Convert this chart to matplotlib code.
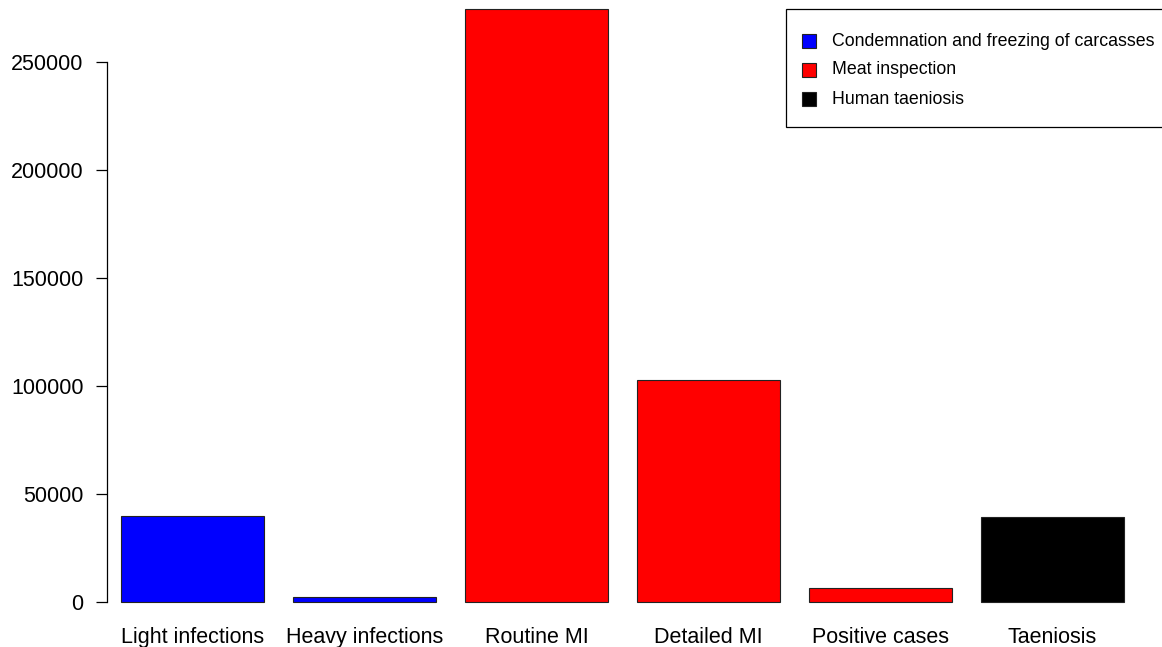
import matplotlib.pyplot as plt
from matplotlib.patches import Rectangle

plt.rcParams['font.family'] = ['Liberation Sans', 'DejaVu Sans']

categories = ["Light infections", "Heavy infections", "Routine MI",
              "Detailed MI", "Positive cases", "Taeniosis"]
values = [39800, 2200, 274500, 102800, 6350, 39500]
bar_colors = ["blue", "blue", "red", "red", "red", "black"]

legend_labels = ["Condemnation and freezing of carcasses",
                 "Meat inspection", "Human taeniosis"]
legend_colors = ["blue", "red", "black"]

W, H = 1162, 647
fig = plt.figure(figsize=(W / 100, H / 100), dpi=100)

# axes spans pixel x 107..1162, y 0..626 (R-style barplot region)
ax = fig.add_axes([107 / W, (H - 626) / H, 1 - 107 / W, 626 / H])

# R barplot positions: width 1, space 0.2
xs = [0.7 + 1.2 * i for i in range(len(values))]
ax.bar(xs, values, width=1.0, color=bar_colors, edgecolor="#222222", linewidth=0.8)

px_x = 143.3          # pixels per x unit
px_y = 250000 / 540   # value per pixel
ax.set_xlim(0.2 - 14 / px_x, 0.2 + (W - 121) / px_x)
ax.set_ylim(-24 * px_y, 602 * px_y)

for s in ["top", "right", "bottom"]:
    ax.spines[s].set_visible(False)
ax.spines["left"].set_bounds(0, 250000)
ax.spines["left"].set_linewidth(0.9)

ax.set_yticks(range(0, 250001, 50000))
ax.set_yticklabels([str(v) for v in range(0, 250001, 50000)])
ax.tick_params(axis="y", length=8, width=0.9, pad=9, labelsize=15.5)

ax.set_xticks(xs)
ax.set_xticklabels(categories)
ax.tick_params(axis="x", length=0, pad=1, labelsize=15.5)

# legend box drawn by hand (right edge runs off the figure)
def fx(p):
    return p / W

def fy(p):
    return 1 - p / H

fig.add_artist(Rectangle((fx(786), fy(127)), fx(W + 20) - fx(786), (127 - 9) / H,
                         transform=fig.transFigure, facecolor="white",
                         edgecolor="black", linewidth=0.9, clip_on=False))
rows = [41, 70, 99]
for yc, lab, col in zip(rows, legend_labels, legend_colors):
    fig.add_artist(Rectangle((fx(802), fy(yc + 7)), 14 / W, 14 / H,
                             transform=fig.transFigure, facecolor=col,
                             edgecolor="#222222", linewidth=0.8))
    fig.text(fx(832), fy(yc), lab, fontsize=12.8, va="center", ha="left")

fig.savefig("out.png", dpi=100)
